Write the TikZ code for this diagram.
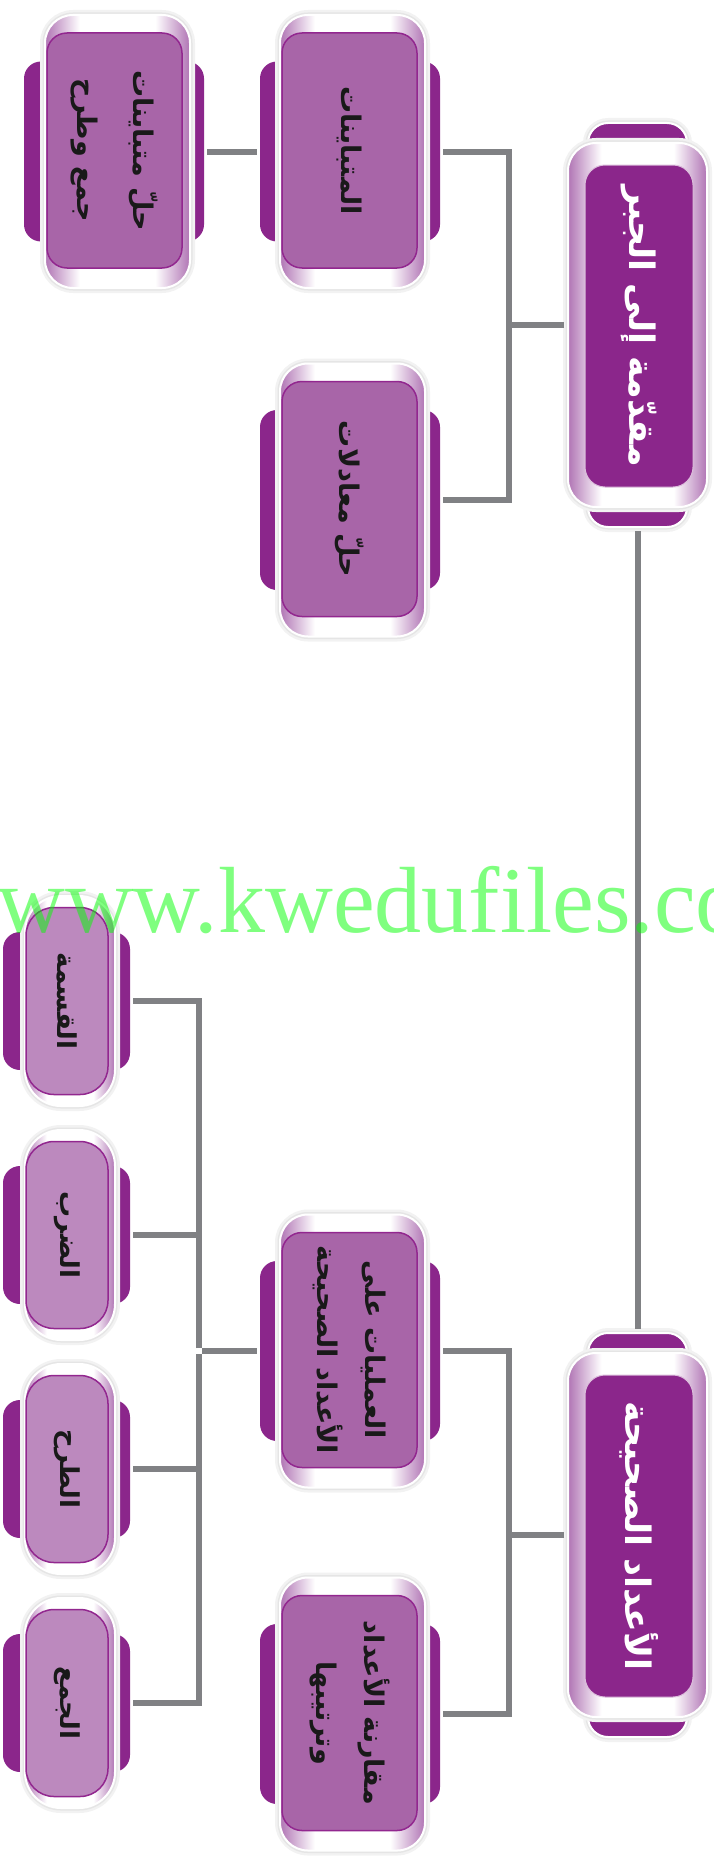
\documentclass[tikz,border=0pt]{standalone}
\usepackage{fontspec}
\setmainfont{Liberation Serif}
\newfontfamily\arabicfont[Script=Arabic,BoldFont={DejaVu Sans Bold}]{DejaVu Sans}
\TeXXeTstate=1
\usetikzlibrary{positioning}

\definecolor{plumdark}{RGB}{139,38,139}
\definecolor{plummid}{RGB}{168,101,168}
\definecolor{plumlight}{RGB}{188,137,190}
\definecolor{plumline}{RGB}{146,39,143}
\definecolor{bevel}{RGB}{176,116,180}
\definecolor{linkgray}{RGB}{128,129,132}

\pgfdeclarehorizontalshading{bevelshade}{100bp}{color(0bp)=(bevel); color(25bp)=(bevel); color(37bp)=(white); color(63bp)=(white); color(75bp)=(bevel); color(100bp)=(bevel)}

\tikzset{
  glow/.style={preaction={draw=black!5, line width=10pt}, preaction={draw=black!10, line width=5pt}},
  toptab/.style={fill=plumdark, draw=white, line width=2pt, rounded corners=20pt, inner sep=0pt,
    minimum width=99pt, minimum height=404pt, glow},
  topbevel/.style={shade, shading=bevelshade, draw=white, line width=2pt, rounded corners=28pt, inner sep=0pt,
    minimum width=139pt, minimum height=364pt, glow},
  topbox/.style={fill=plumdark, draw=white!70!plumdark, line width=1pt, rounded corners=20pt, rotate=-90,
    minimum width=322pt, minimum height=108pt, text=white, align=center,
    font=\arabicfont\bfseries\fontsize{35}{44}\selectfont},
  midtab/.style={fill=plumdark, rounded corners=17pt, inner sep=0pt, minimum width=180pt, minimum height=180pt},
  midbevel/.style={shade, shading=bevelshade, draw=white, line width=2pt, rounded corners=28pt, inner sep=0pt,
    minimum width=145pt, minimum height=273pt, glow},
  midbox/.style={fill=plummid, draw=plumline, line width=1.5pt, rounded corners=20pt, rotate=-90,
    minimum width=235pt, minimum height=135pt, text=black!90, align=center,
    font=\arabicfont\bfseries\fontsize{27}{48}\selectfont},
  leaftab/.style={fill=plumdark, rounded corners=17pt, inner sep=0pt, minimum width=127pt, minimum height=138pt},
  leafbevel/.style={shade, shading=bevelshade, draw=white, line width=2pt, rounded corners=36pt, inner sep=0pt,
    minimum width=90pt, minimum height=210pt, glow},
  leafbox/.style={fill=plumlight, draw=plumline, line width=1.5pt, rounded corners=28pt, rotate=-90,
    minimum width=187pt, minimum height=82pt, text=black!90, align=center,
    font=\arabicfont\bfseries\fontsize{26}{40}\selectfont},
  link/.style={draw=linkgray, line width=6pt, shorten <=3pt, shorten >=3pt},
  watermark/.style={text=green, opacity=0.5, inner sep=0pt, anchor=base west,
    font=\fontsize{94}{94}\selectfont}
}

\begin{document}
\begin{tikzpicture}[x=1pt, y=-1pt]
  \useasboundingbox (0,0) rectangle (713,1857);

  % top level
  \node[toptab]   (alg-tab) at (637.5,325) {};
  \node[topbevel] (alg-bev) at (637.5,325) {};
  \node[topbox]   (alg)     at (639,326)   {\beginR مقدّمة إلى الجبر\endR};

  \node[toptab]   (int-tab) at (637.5,1535) {};
  \node[topbevel] (int-bev) at (637.5,1535) {};
  \node[topbox]   (int)     at (639,1536)   {\beginR الأعداد الصحيحة\endR};

  % second level
  \node[midtab]   (ineq-tab) at (350,151.5) {};
  \node[midbevel] (ineq-bev) at (352.5,151.5) {};
  \node[midbox]   (ineq)     at (349.5,150.5) {\beginR المتباينات\endR};

  \node[midtab]   (eq-tab) at (350,500) {};
  \node[midbevel] (eq-bev) at (352.5,500) {};
  \node[midbox]   (eq)     at (349.5,499) {\beginR حلّ معادلات\endR};

  \node[midtab]   (ops-tab) at (350,1351) {};
  \node[midbevel] (ops-bev) at (352.5,1351) {};
  \node[midbox]   (ops)     at (349.5,1350) {\beginR العمليات على\endR\\\beginR الأعداد الصحيحة\endR};

  \node[midtab]   (cmp-tab) at (350,1714) {};
  \node[midbevel] (cmp-bev) at (352.5,1714) {};
  \node[midbox]   (cmp)     at (349.5,1713) {\beginR مقارنة الأعداد\endR\\\beginR وترتيبها\endR};

  % third level
  \node[midtab]   (ineqpm-tab) at (114,151.5) {};
  \node[midbevel] (ineqpm-bev) at (117.5,151.5) {};
  \node[midbox, font=\arabicfont\bfseries\fontsize{27}{56}\selectfont]
                  (ineqpm)     at (114.5,150.5) {\beginR حلّ متباينات\endR\\\beginR جمع وطرح\endR};

  \foreach \n/\y/\t in {div/1001/القسمة, mul/1235/الضرب, sub/1469/الطرح, add/1703/الجمع}{
    \node[leaftab]   (\n-tab) at (66.5,\y) {};
    \node[leafbevel] (\n-bev) at (70,\y) {};
    \node[leafbox]   (\n)     at (67,\y) {\beginR\t\endR};
  }

  % connectors
  \draw[link] (alg-tab.south) -- (int-tab.north);
  \coordinate (busA) at (509,325);
  \draw[link] (alg-bev.west) -- (busA) |- (ineq-tab.east);
  \draw[link] (busA) |- (eq-tab.east);
  \coordinate (busB) at (509,1535);
  \draw[link] (int-bev.west) -- (busB) |- (ops-tab.east);
  \draw[link] (busB) |- (cmp-tab.east);
  \draw[link] (ineqpm-tab.east) -- (ineq-tab.west);
  \coordinate (busC) at (199,1351);
  \draw[link] (ops-tab.west) -- (busC);
  \foreach \n in {div,mul,sub,add}
    \draw[link] (busC) |- (\n-tab.east);

  % watermark
  \begin{scope}
    \clip (0,0) rectangle (713,1857);
    \node[watermark] (wm) at (-3,932) {www.kwedufiles.com};
  \end{scope}
\end{tikzpicture}
\end{document}
